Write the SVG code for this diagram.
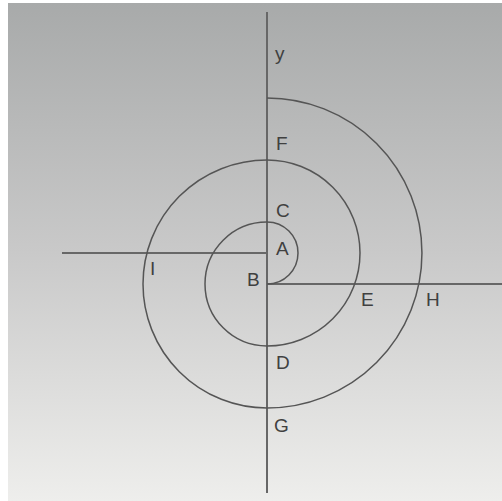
<svg xmlns="http://www.w3.org/2000/svg" width="502" height="501" viewBox="0 0 502 501">
  <defs>
    <linearGradient id="bg" x1="0" y1="0" x2="0" y2="1">
      <stop offset="0" stop-color="#a8aaaa"/>
      <stop offset="0.5" stop-color="#c9c9c9"/>
      <stop offset="1" stop-color="#eeeeec"/>
    </linearGradient>
  </defs>
  <style>
    .axis { stroke: #676767; stroke-width: 2; fill: none; }
    .spiral { stroke: #555; stroke-width: 1.5; fill: none; }
    .lbl { font-family: "Liberation Sans", Arial, sans-serif; font-size: 19px; fill: #404040; }
  </style>
  <rect x="0" y="0" width="502" height="501" fill="#ffffff"/>
  <rect x="8" y="3" width="494" height="498" fill="url(#bg)"/>
  <g id="axes">
    <line class="axis" x1="267" y1="12" x2="267" y2="493"/>
    <line class="axis" x1="62" y1="253" x2="267" y2="253"/>
    <line class="axis" x1="267" y1="284" x2="502" y2="284"/>
  </g>
  <g id="spiral">
    <path class="spiral" d="M 267 284 A 31 31 0 0 0 267 222 A 62 62 0 0 0 267 346 A 93 93 0 0 0 267 160 A 124 124 0 0 0 267 408 A 155 155 0 0 0 267 98"/>
  </g>
  <g id="labels">
    <text class="lbl" x="275" y="60">y</text>
    <text class="lbl" x="276" y="150">F</text>
    <text class="lbl" x="276" y="217">C</text>
    <text class="lbl" x="276" y="255">A</text>
    <text class="lbl" x="247" y="286">B</text>
    <text class="lbl" x="150" y="275">I</text>
    <text class="lbl" x="361" y="306">E</text>
    <text class="lbl" x="426" y="306">H</text>
    <text class="lbl" x="276" y="369">D</text>
    <text class="lbl" x="274" y="432">G</text>
  </g>
</svg>
